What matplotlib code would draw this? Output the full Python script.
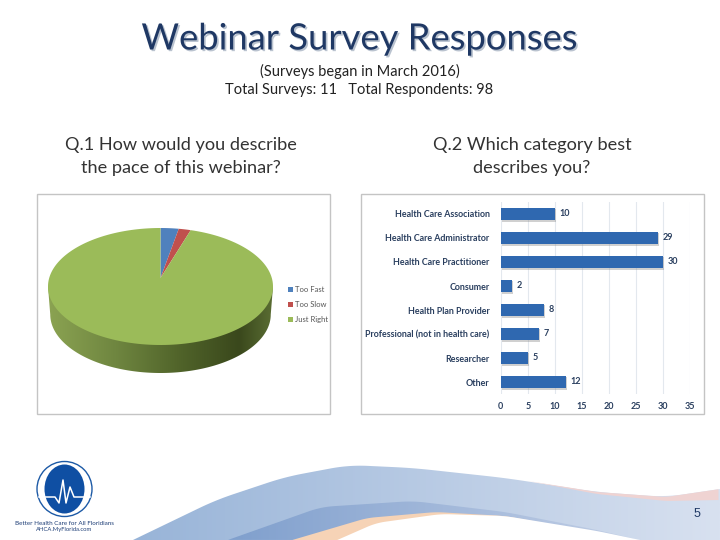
import numpy as np
import matplotlib
matplotlib.use('Agg')
import matplotlib.pyplot as plt
import matplotlib.patheffects as pe
from matplotlib.patches import Polygon, Ellipse, Rectangle

pace_labels = ['Too Fast', 'Too Slow', 'Just Right']
pace_values = [3, 2, 95]
pace_colors = ['#4f81bd', '#c0504d', '#9bbb59']

categories = ['Health Care Association', 'Health Care Administrator', 'Health Care Practitioner',
              'Consumer', 'Health Plan Provider', 'Professional (not in health care)',
              'Researcher', 'Other']
counts = [10, 29, 30, 2, 8, 7, 5, 12]
count_ticks = [0, 5, 10, 15, 20, 25, 30, 35]

plt.rcParams['font.family'] = ['Lato', 'DejaVu Sans']
W, H = 720, 540


def px_axes(left, top, right, bottom):
    return fig.add_axes([left / W, 1 - bottom / H, (right - left) / W, (bottom - top) / H])


def smooth(pts, n=400, k=25):
    # resample the outline and round its corners off
    pts = np.array(pts, float)
    t = np.r_[0, np.cumsum(np.hypot(*np.diff(pts, axis=0).T))]
    u = np.linspace(0, t[-1], n)
    x, y = np.interp(u, t, pts[:, 0]), np.interp(u, t, pts[:, 1])
    kern = np.ones(k) / k
    xs = np.convolve(np.pad(x, k // 2, mode='edge'), kern, mode='valid')
    ys = np.convolve(np.pad(y, k // 2, mode='edge'), kern, mode='valid')
    return np.c_[xs, ys]


def gradient_poly(ax, pts, c_left, c_right, extent):
    c0 = np.array(matplotlib.colors.to_rgb(c_left))
    c1 = np.array(matplotlib.colors.to_rgb(c_right))
    g = np.linspace(0, 1, 256)[None, :, None]
    im = ax.imshow(c0 + (c1 - c0) * g, extent=extent, aspect='auto', zorder=2)
    poly = Polygon(pts, closed=True, transform=ax.transData, fc='none', ec='none')
    ax.add_patch(poly)
    im.set_clip_path(poly)
    return im


fig = plt.figure(figsize=(7.2, 5.4), dpi=100, facecolor='white')

# page layer in pixel coordinates
bg = fig.add_axes([0, 0, 1, 1])
bg.axis('off')

top_edge = smooth([(133, 540), (216, 500), (285, 477), (349, 465), (413, 468), (505, 478),
                   (597, 492), (666, 497), (720, 489)])
gradient_poly(bg, np.r_[top_edge, [(720, 489), (720, 540), (133, 540)]], '#98b4d8', '#d8e1f0', (133, 720, 540, 460))

dark_edge = smooth([(225, 541), (321, 507), (413, 501), (505, 512), (597, 530), (643, 541)])
gradient_poly(bg, dark_edge, '#7f9fcd', '#c2cfe6', (225, 643, 541, 500))
peach_edge = smooth([(289, 541), (367, 518), (436, 512), (505, 516), (560, 526)])
bg.add_patch(Polygon(np.r_[peach_edge, [(643, 541)]], fc='#f6d3b6', ec='none', zorder=3))
white_edge = smooth([(335, 541), (376, 523), (441, 514), (505, 516), (597, 531), (645, 541)])
bg.add_patch(Polygon(white_edge, fc='white', ec='none', zorder=4))
pink_top = smooth([(528, 481), (597, 492), (666, 497), (720, 489)])
pink_low = smooth([(720, 500), (666, 501), (597, 494), (528, 481)])
bg.add_patch(Polygon(np.r_[pink_top, pink_low], fc='#efd3d2', ec='none', zorder=3))
bg.set_xlim(0, W)
bg.set_ylim(H, 0)

# logo
bg.add_patch(Ellipse((64.5, 489), 55, 55, fc='white', ec='#1d5aa6', lw=1, zorder=5))
bg.add_patch(Ellipse((64.5, 489), 40, 49, fc='#0f4fa3', ec='none', zorder=6))
bg.plot([39, 55, 59, 63, 66, 70, 74, 90], [497, 497, 503, 480, 503, 487, 497, 497],
        color='white', lw=1.1, zorder=7)
bg.text(64.5, 523.5, 'Better Health Care for All Floridians', fontsize=4.5, color='#1f3f77',
        ha='center', va='center', zorder=7)
bg.text(64.5, 530, 'AHCA.MyFlorida.com', fontsize=4.2, color='#1f3f77', ha='center', va='center', zorder=7)
bg.text(697, 514, '5', fontsize=9, color='#1f3864', family='Liberation Sans', ha='center', va='center', zorder=7)

# heading
title = bg.text(359.5, 39, 'Webinar Survey Responses', fontsize=26.2, color='#1f3864', ha='center', va='center')
title.set_path_effects([pe.SimplePatchShadow(offset=(1.2, -1.2), shadow_rgbFace='#a9b4c4', alpha=0.8), pe.Normal()])
bg.text(359.5, 71.5, '(Surveys began in March 2016)', fontsize=10.5, color='#222222', ha='center', va='center')
bg.text(359.5, 90, 'Total Surveys: 11   Total Respondents: 98', fontsize=10.5, color='#222222',
        ha='center', va='center')
bg.text(180.5, 145, 'Q.1 How would you describe', fontsize=13.1, color='#333333', ha='center', va='center')
bg.text(180.5, 168, 'the pace of this webinar?', fontsize=13.1, color='#333333', ha='center', va='center')
bg.text(532, 145, 'Q.2 Which category best', fontsize=13.1, color='#333333', ha='center', va='center')
bg.text(532, 168, 'describes you?', fontsize=13.1, color='#333333', ha='center', va='center')

# chart frames
for x0, x1 in [(36.5, 329.5), (360.5, 703.5)]:
    bg.add_patch(Rectangle((x0, 194), x1 - x0, 220, fc='white', ec='#c4c4c4', lw=1, zorder=1))

# Q1 pie, drawn flat on a unit disc then tilted with a projective map
pie = px_axes(37, 195, 329, 413)
cx, cy, rx, ry, depth = 160.5, 286.5, 112.5, 58.5, 28
a = 8.5 / ry
pie.axis('off')

hull = np.r_[[(cx - rx, cy)],
             [(cx - rx * np.cos(t) * 0.98, cy + ry * np.sin(t) + depth) for t in np.linspace(0, np.pi, 200)],
             [(cx + rx, cy)]]
c_stops = ['#8ba352', '#6f8640', '#4f6229', '#3a481c', '#5a6d33']
rows = np.linspace(0, 1, 256)
cols = np.array([matplotlib.colors.to_rgb(c) for c in c_stops])
grad = np.stack([np.interp(rows, [0, 0.3, 0.6, 0.85, 1], cols[:, i]) for i in range(3)], axis=-1)[None, :, :]
im = pie.imshow(grad, extent=(cx - rx, cx + rx, cy + ry + depth, cy - 10), aspect='auto', zorder=1)
clip = Polygon(hull, closed=True, transform=pie.transData, fc='none', ec='none')
pie.add_patch(clip)
im.set_clip_path(clip)

fractions = np.array(pace_values) / sum(pace_values)
bounds = np.r_[0, np.cumsum(fractions)]
handles = []
for i, lab in enumerate(pace_labels):
    th = np.linspace(bounds[i], bounds[i + 1], 200) * 2 * np.pi
    ux, uy = np.r_[0, np.sin(th)], np.r_[0, np.cos(th)]
    wx = ux * np.sqrt(1 - a ** 2) / (1 + a * uy)
    wy = (uy + a) / (1 + a * uy)
    h = pie.fill(cx + rx * wx, cy - ry * wy, color=pace_colors[i], lw=0, zorder=2, label=lab)
    handles.append(h[0])
pie.set_xlim(37, 329)
pie.set_ylim(413, 195)
pie.legend(handles=handles, loc='center left', bbox_to_anchor=(0.861, 0.497), frameon=False, fontsize=5.5,
           handlelength=0.6, handleheight=0.6, labelspacing=1.03, handletextpad=0.3, labelcolor='#555555',
           borderpad=0, borderaxespad=0)

# Q2 bars
ax = px_axes(500.7, 202, 690, 394)
y = np.arange(len(categories))
bars = ax.barh(y, counts, height=0.53, color='#2f68b0', zorder=3)
for b in bars:
    b.set_path_effects([pe.SimplePatchShadow(offset=(1, -1), shadow_rgbFace='#8a8a8a', alpha=0.4), pe.Normal()])
for yi, c in zip(y, counts):
    ax.text(c + 0.9, yi, str(c), va='center', ha='left', fontsize=6.5, color='#2a3f5f', fontweight='bold')
ax.set_xlim(0, 35)
ax.set_ylim(len(categories) - 0.5, -0.5)
ax.set_yticks(y, categories)
ax.set_xticks(count_ticks)
ax.tick_params(axis='y', length=0, labelsize=6.4, labelcolor='#2a3f5f', pad=8)
ax.tick_params(axis='x', length=0, labelsize=6.5, labelcolor='#2a3f5f', pad=6)
for lab in ax.get_yticklabels() + ax.get_xticklabels():
    lab.set_fontweight('bold')
ax.grid(axis='x', color='#e3e8ee', lw=0.8, zorder=0)
ax.set_axisbelow(True)
for s in ax.spines.values():
    s.set_visible(False)
ax.patch.set_alpha(0)

fig.savefig('out.png', dpi=100)
